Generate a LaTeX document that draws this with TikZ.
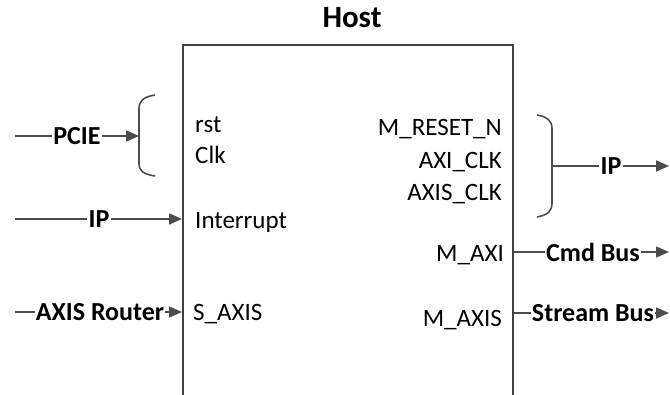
\documentclass[tikz,border=0pt]{standalone}
\usepackage{fontspec}
\setmainfont{Carlito}
\usetikzlibrary{arrows.meta}
\begin{document}
\begin{tikzpicture}[x=1pt,y=-1pt,
  conn/.style={draw=black!70, line width=1.6pt},
  arr/.style={conn,-{Triangle[length=13pt,width=11pt]}},
  port/.style={font=\fontsize{25}{30}\selectfont, inner sep=0pt},
  sig/.style={font=\bfseries\fontsize{26}{31}\selectfont, inner sep=1pt},
  hostbox/.style={draw=black!75, line width=1.6pt, minimum width=330pt, minimum height=420pt, anchor=north west, inner sep=0pt}
]
\useasboundingbox (0,0) rectangle (670,394);
\clip (0,0) rectangle (670,394);

% main block
\node[hostbox] (host) at (182,44) {};
\node[font=\bfseries\fontsize{31}{37}\selectfont, inner sep=0pt] (title) at (352,18) {Host};

% ports inside the block
\node[port, anchor=base west] (rst) at (195,132) {rst};
\node[port, anchor=base west] (clk) at (195,163) {Clk};
\node[port, anchor=base west] (intr) at (195,228) {Interrupt};
\node[port, anchor=base west] (saxis) at (193,320) {S\_AXIS};
\node[port, anchor=base east] (mreset) at (502,135) {M\_RESET\_N};
\node[port, anchor=base east] (axiclk) at (502,168) {AXI\_CLK};
\node[port, anchor=base east] (axisclk) at (502,200) {AXIS\_CLK};
\node[port, anchor=base east] (maxi) at (504,261) {M\_AXI};
\node[port, anchor=base east] (maxis) at (502,326) {M\_AXIS};

% left: PCIE
\coordinate (pcieS) at (15,136);
\node[sig] (pcie) at (77,136) {PCIE};
\coordinate (lbr) at (139,136);
\draw[conn] (pcieS) -- (pcie.west);
\draw[arr] (pcie.east) -- (lbr);
\draw[conn] (155,95) .. controls (143,97) and (139,101) .. (139,109) -- (139,163) .. controls (139,171) and (143,174) .. (155,176);

% left: IP
\coordinate (ipS) at (15,219);
\node[sig] (ipin) at (99,219) {IP};
\draw[conn] (ipS) -- (ipin.west);
\draw[arr] (ipin.east) -- (ipin.east -| host.west);

% left: AXIS Router
\coordinate (axrS) at (15,312);
\node[sig] (axr) at (100,312) {AXIS Router};
\draw[conn] (axrS) -- (axr.west);
\draw[arr] (axr.east) -- (axr.east -| host.west);

% right: bracket and IP
\draw[conn] (537,115) .. controls (548,117) and (552,121) .. (552,129) -- (552,203) .. controls (552,211) and (548,215) .. (537,217);
\coordinate (rbr) at (552,166);
\node[sig] (ipout) at (611,166) {IP};
\coordinate (ipE) at (669,166);
\draw[conn] (rbr) -- (ipout.west);
\draw[arr] (ipout.east) -- (ipE);

% right: Cmd Bus
\node[sig] (cmd) at (593,252) {Cmd Bus};
\coordinate (cmdE) at (669,252);
\draw[conn] (cmd.west -| host.east) -- (cmd.west);
\draw[arr] (cmd.east) -- (cmdE);

% right: Stream Bus
\node[sig] (stream) at (593,313) {Stream Bus};
\coordinate (stE) at (669,313);
\draw[conn] (stream.west -| host.east) -- (stream.west);
\draw[arr] (stream.east) -- (stE);
\end{tikzpicture}
\end{document}
